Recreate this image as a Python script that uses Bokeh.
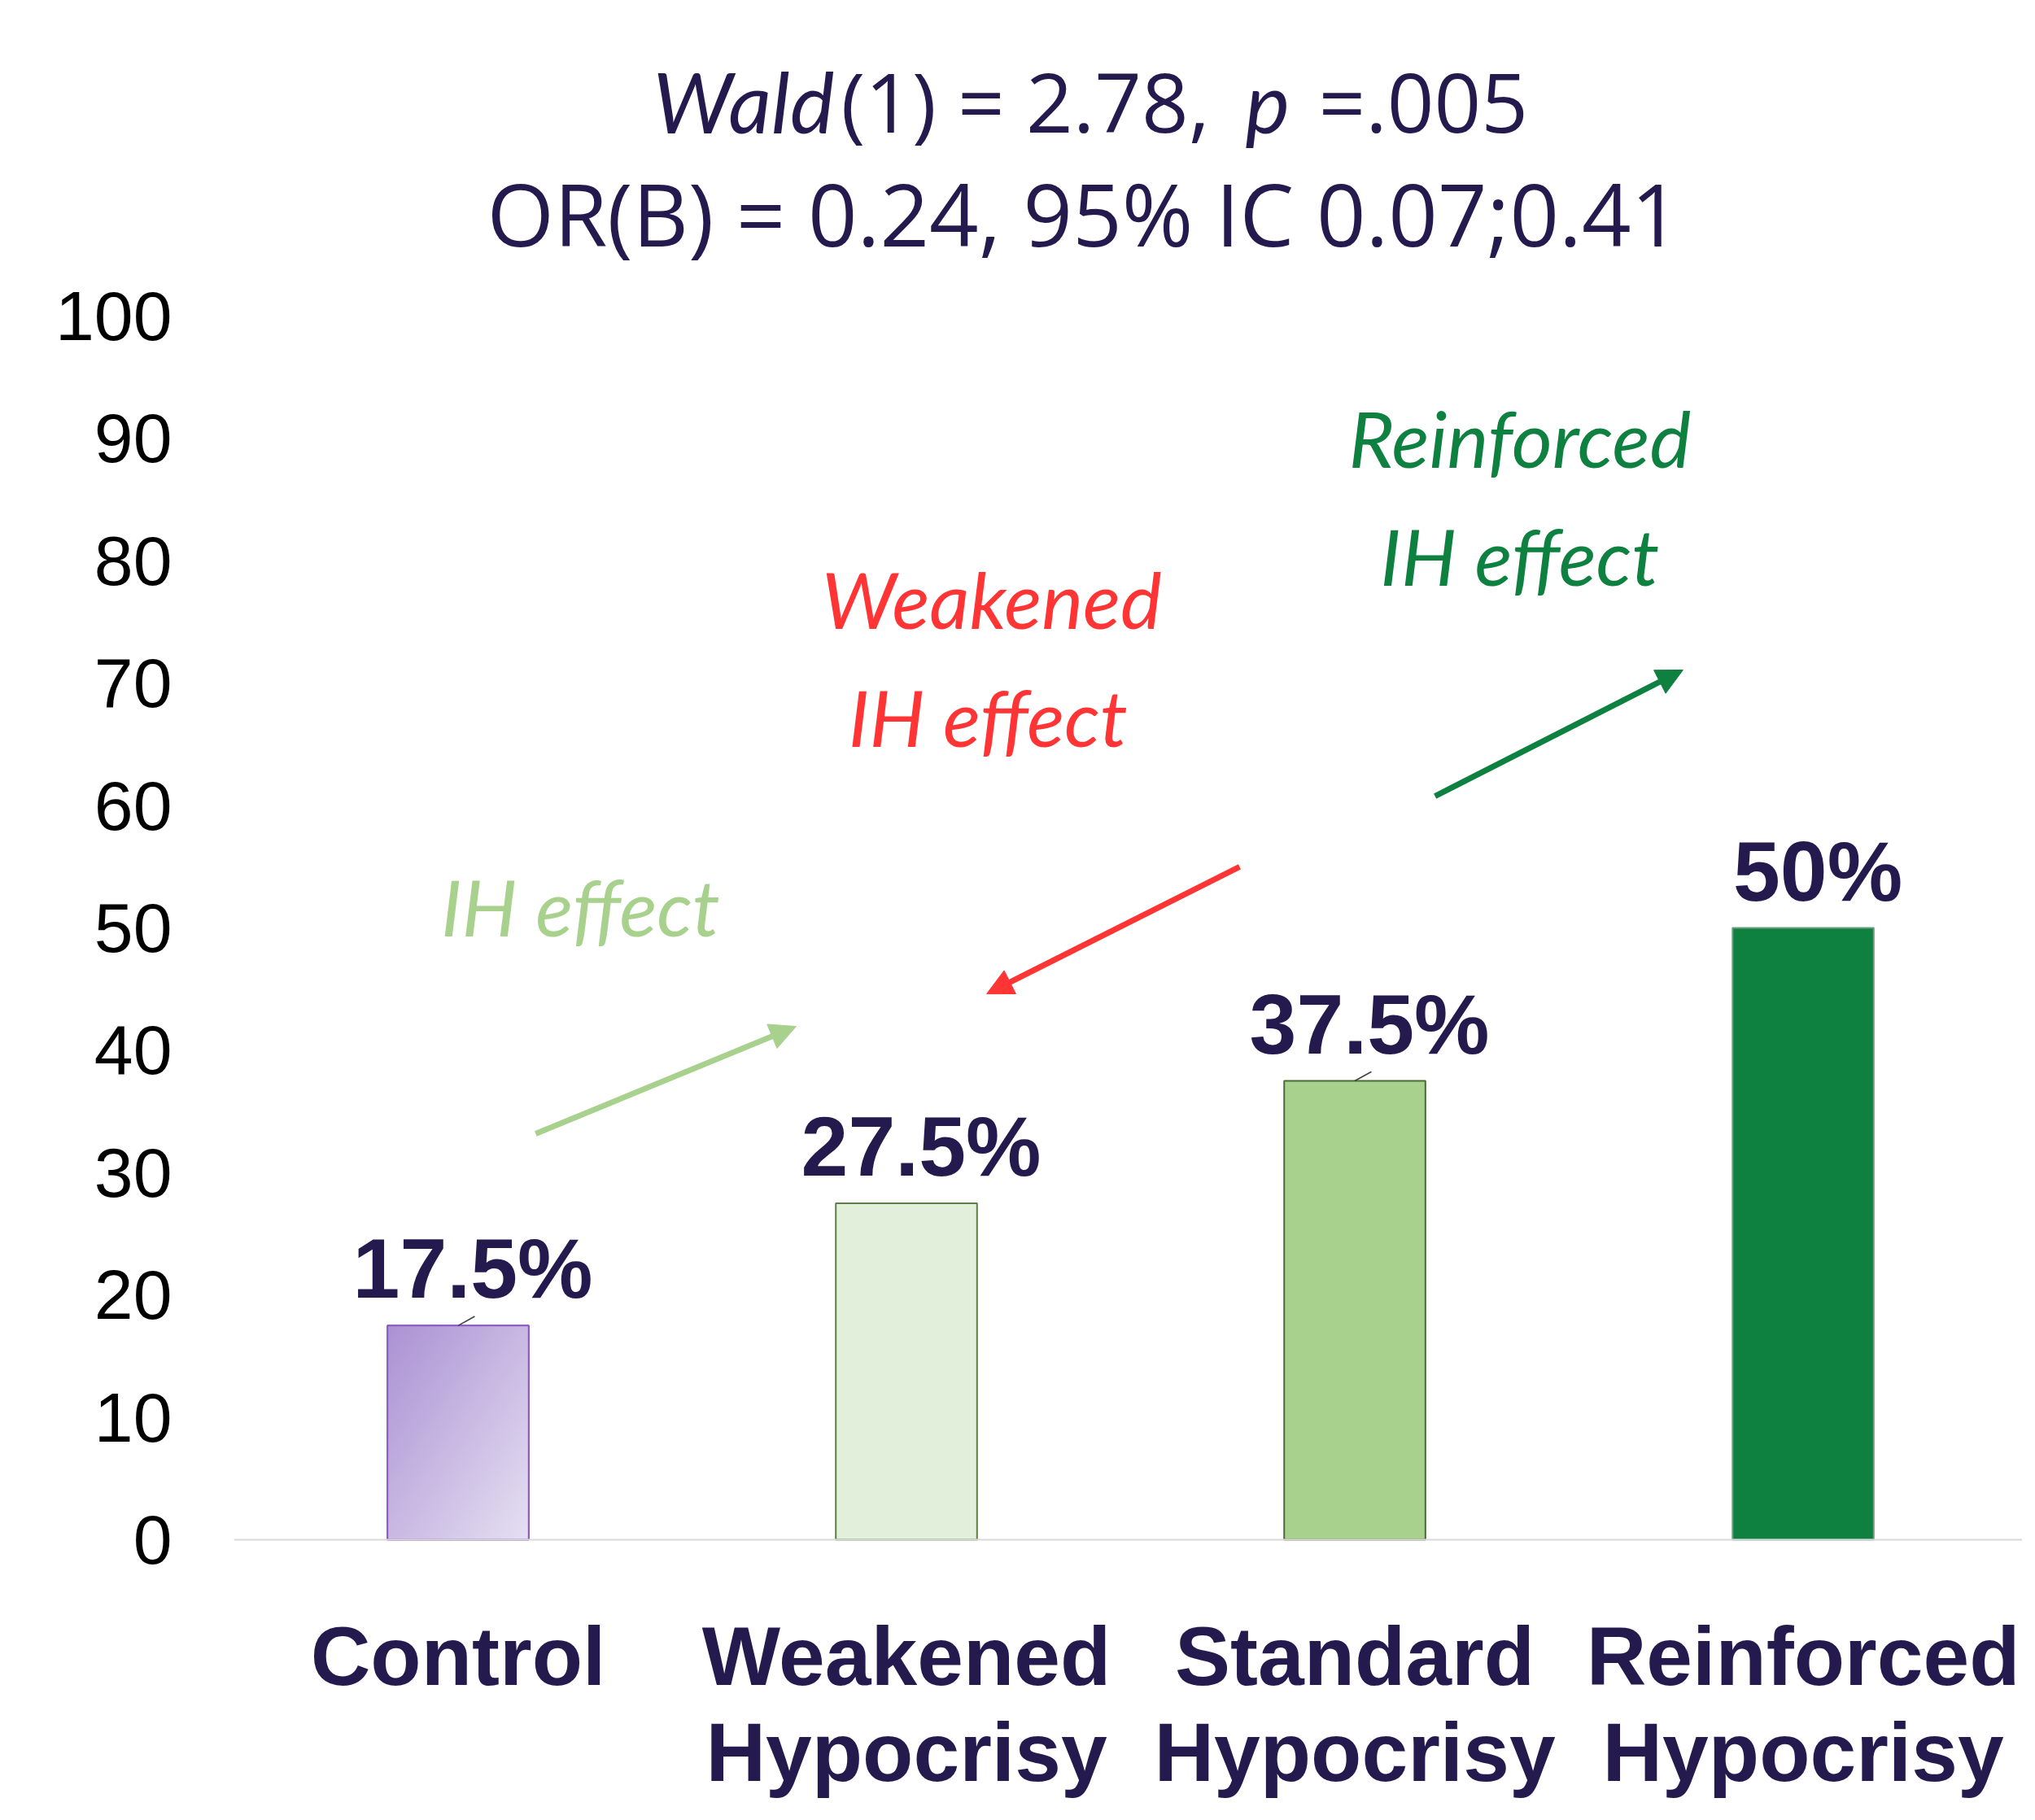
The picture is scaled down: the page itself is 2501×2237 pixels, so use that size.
import numpy as np
from bokeh.plotting import figure
from bokeh.models import (Range1d, FixedTicker, LabelSet, Label, Arrow, NormalHead,
                          ColumnDataSource, Span)
from bokeh.core.properties import value
from bokeh.embed import file_html
from bokeh.resources import INLINE

# ---------------- data ----------------
categories = ["Control", "Weakened Hypocrisy", "Standard Hypocrisy", "Reinforced Hypocrisy"]
category_labels = ["Control", "Weakened\nHypocrisy", "Standard\nHypocrisy", "Reinforced\nHypocrisy"]
values = [17.5, 27.5, 37.5, 50.0]
value_labels = ["17.5%", "27.5%", "37.5%", "50%"]
y_ticks = [0, 10, 20, 30, 40, 50, 60, 70, 80, 90, 100]

title_line1 = ["Wald", "(1) = 2.78,", "p", "=.005"]
title_line2 = "OR(B) =  0.24, 95% IC 0.07;0.41"

# ---------------- style ----------------
NAVY = "#241A4E"
BOLD = "Liberation Sans"
TICK = "Liberation Sans"
ITAL = "Lato"
REG = "Open Sans"
bar_fill = ["#C9B8E0", "#E2EFDA", "#A9D18E", "#0E8040"]
bar_line = ["#8E5CC0", "#5B7F45", "#4A6B38", "#6F9F7F"]
bar_width = 0.315

xpos = [i + 0.5 for i in range(len(categories))]
line1 = [s.split("\n")[0] for s in category_labels]
line2 = [s.split("\n")[1] if "\n" in s else "" for s in category_labels]

p = figure(x_range=Range1d(0, 3.989), y_range=Range1d(-21.875, 125.8),
           width=2485, height=2221, output_backend="svg", toolbar_location=None,
           min_border_left=287, min_border_right=0, min_border_top=0, min_border_bottom=0)
p.outline_line_color = None
p.xgrid.visible = False
p.ygrid.visible = False
p.xaxis.visible = False
p.background_fill_color = "white"
p.border_fill_color = "white"

src = ColumnDataSource(dict(x=xpos, top=values, fill=bar_fill, line=bar_line,
                            label=value_labels, l1=line1, l2=line2))
p.vbar(x="x", top="top", width=bar_width, source=src, fill_color="fill",
       line_color="line", line_width=2)

# gradient fill for control bar
N = 120
r = np.linspace(0, 1, N)[:, None]   # 0 bottom -> 1 top
c = np.linspace(0, 1, N)[None, :]   # 0 left -> 1 right
t = (c + (1 - r)) / 2.0
dark = np.array([172, 146, 212], dtype=float)
light = np.array([230, 224, 242], dtype=float)
img = np.zeros((N, N), dtype=np.uint32)
view = img.view(dtype=np.uint8).reshape((N, N, 4))
for k in range(3):
    view[:, :, k] = (dark[k] + (light[k] - dark[k]) * t).astype(np.uint8)
view[:, :, 3] = 255
ci = 0
p.image_rgba(image=[img], x=xpos[ci] - bar_width / 2, y=0, dw=bar_width, dh=values[ci])
p.vbar(x=[xpos[ci]], top=[values[ci]], width=bar_width, fill_color=None,
       line_color=bar_line[ci], line_width=2)

# small label leader lines (Control and Standard bars)
lead_idx = [0, 2]
p.segment(x0=[xpos[i] for i in lead_idx], y0=[values[i] for i in lead_idx],
          x1=[xpos[i] + 0.037 for i in lead_idx], y1=[values[i] + 0.75 for i in lead_idx],
          line_color="#404040", line_width=1.5)

# baseline (x axis line)
p.add_layout(Span(location=0, dimension="width", line_color="#D9D9D9", line_width=2))

# value labels
p.add_layout(LabelSet(x="x", y="top", text="label", source=src, x_offset=18, y_offset=34,
                      text_align="center", text_baseline="alphabetic",
                      text_font=value(BOLD), text_font_style="bold", text_font_size="104px",
                      text_color=NAVY))

# category labels (two lines)
for col, off in (("l1", -178), ("l2", -296)):
    p.add_layout(LabelSet(x="x", y=0, text=col, source=src, y_offset=off,
                          text_align="center", text_baseline="alphabetic",
                          text_font=value(BOLD), text_font_style="bold", text_font_size="102px",
                          text_color=NAVY))

# y axis
p.yaxis.ticker = FixedTicker(ticks=y_ticks)
p.yaxis.axis_line_color = None
p.yaxis.major_tick_line_color = None
p.yaxis.minor_tick_line_color = None
p.yaxis.major_label_standoff = 70
p.yaxis.major_label_text_font = TICK
p.yaxis.major_label_text_font_size = "86px"
p.yaxis.major_label_text_color = "#000000"

# title (statistics)
TY1, TY2 = 117.6, 108.4
p.add_layout(Label(x=(1025 - 287) / 551, y=TY1, text=title_line1[0], text_font=ITAL,
                   text_font_style="italic", text_font_size="103px", text_color=NAVY,
                   text_align="right", text_baseline="alphabetic"))
p.add_layout(Label(x=(1033 - 287) / 551, y=TY1, text=title_line1[1], text_font=REG,
                   text_font_size="101px", text_color=NAVY,
                   text_align="left", text_baseline="alphabetic"))
p.add_layout(Label(x=(1530 - 287) / 551, y=TY1, text=title_line1[2], text_font=ITAL,
                   text_font_style="italic", text_font_size="103px", text_color=NAVY,
                   text_align="left", text_baseline="alphabetic"))
p.add_layout(Label(x=(1620 - 287) / 551, y=TY1, text=title_line1[3], text_font=REG,
                   text_font_size="101px", text_color=NAVY,
                   text_align="left", text_baseline="alphabetic"))
p.add_layout(Label(x=(1345 - 287) / 551, y=TY2, text=title_line2, text_font=REG,
                   text_font_size="106px", text_color=NAVY,
                   text_align="center", text_baseline="alphabetic"))

# annotations
RED = "#FF3535"
LG = "#A9D18E"
DG = "#0E8040"
ann = [("IH effect", 0.773, 51.80, LG),
       ("Weakened", 1.690, 76.93, RED), ("IH effect", 1.682, 67.29, RED),
       ("Reinforced", 2.868, 90.09, DG), ("IH effect", 2.868, 80.45, DG)]
for txt, xx, yy, col in ann:
    p.add_layout(Label(x=xx, y=yy, text=txt, text_font=ITAL, text_font_style="italic",
                       text_font_size="96px", text_color=col,
                       text_align="center", text_baseline="alphabetic"))

arrows = [(0.673, 33.18, 1.254, 41.95, LG),
          (2.243, 54.99, 1.679, 44.61, RED),
          (2.679, 60.77, 3.232, 71.08, DG)]
for x0, y0, x1, y1, col in arrows:
    p.add_layout(Arrow(end=NormalHead(size=32, fill_color=col, line_color=col, line_width=1),
                       x_start=x0, y_start=y0, x_end=x1, y_end=y1,
                       line_color=col, line_width=7))

open("out.html", "w").write(file_html(p, INLINE))
